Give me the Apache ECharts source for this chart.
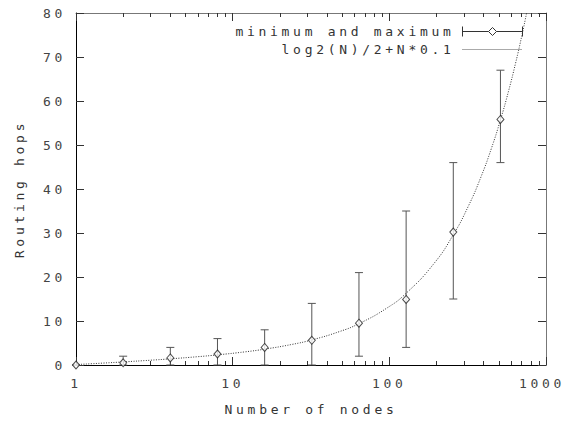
<!DOCTYPE html>
<html><head><meta charset="utf-8">
<script src="https://cdn.jsdelivr.net/npm/echarts@6/dist/echarts.min.js"></script>
<style>
html,body{margin:0;padding:0;background:#fff;}
#c{width:565px;height:426px;}
#c svg text{letter-spacing:3.7px;}
</style></head><body><div id="c"></div>
<script>
const nodes = [1, 2, 4, 8, 16, 32, 64, 128, 256, 512];
const meanHops = [0, 0.5, 1.6, 2.5, 4.0, 5.6, 9.5, 14.9, 30.2, 55.8];
const minHops = [0, 0, 0, 0, 0, 0, 2, 4, 15, 46];
const maxHops = [0, 2, 4, 6, 8, 14, 21, 35, 46, 67];
const curveN = [1, 1.5, 2, 3, 4, 6, 8, 12, 16, 24, 32, 48, 64, 96, 128, 192, 256, 320, 384, 448, 512, 576, 640, 704, 752, 760];
const curveHops = [0.1, 0.44, 0.7, 1.09, 1.4, 1.89, 2.3, 2.99, 3.6, 4.69, 5.7, 7.59, 9.4, 12.89, 16.3, 22.99, 29.6, 36.16, 42.69, 49.2, 55.7, 62.18, 68.66, 75.13, 79.98, 80.79];
const xMinorTicks = [2,3,4,5,6,7,8,9,20,30,40,50,60,70,80,90,200,300,400,500,600,700,800,900];
const seriesNames = ['minimum and maximum', 'log2(N)/2+N*0.1'];
const xTitle = 'Number of nodes';
const yTitle = 'Routing hops';

const FONT = 'DejaVu Sans Mono';
const FS = 13;
const chart = echarts.init(document.getElementById('c'), null, {renderer: 'svg'});
const errData = nodes.map((n, i) => [n, minHops[i], maxHops[i]]);
const meanData = nodes.map((n, i) => [n, meanHops[i]]);
const curveData = curveN.map((n, i) => [n, curveHops[i]]);

function xAxisCfg(pos, minor, showLabel, lineColor) {
  return {
    type: 'log', logBase: 10, min: 1, max: 1000, position: pos,
    name: showLabel ? xTitle : '', nameLocation: 'middle', nameGap: 38,
    nameTextStyle: {fontFamily: FONT, fontSize: FS, color: '#333'},
    axisLine: {show: !minor, lineStyle: {color: lineColor, width: 1}},
    axisTick: minor ? {show: true, inside: true, length: 4, lineStyle: {color: '#333'}, customValues: xMinorTicks}
                    : {show: true, inside: true, length: 8, lineStyle: {color: '#333'}},
    axisLabel: {show: showLabel, margin: 12, fontFamily: FONT, fontSize: FS, color: '#444',
                formatter: v => (v >= 1000 ? '{e|' + String(v) + '}' : String(v)),
                rich: {e: {align: 'center', padding: [0, 8, 0, 0], fontFamily: FONT, fontSize: FS, color: '#444'}}},
    splitLine: {show: false}, minorTick: {show: false}
  };
}

chart.setOption({
  animation: false,
  backgroundColor: '#fff',
  grid: {left: 76, right: 19, top: 13, bottom: 61},
  legend: {
    right: 37, top: 20, orient: 'vertical', align: 'right', itemGap: 5, padding: 5,
    itemWidth: 60, itemHeight: 10, selectedMode: false,
    textStyle: {fontFamily: FONT, fontSize: FS, color: '#333', padding: [0, 3, 0, 0]},
    data: [
      {name: seriesNames[0], icon: 'path://M0,0L0,10M0,5L26,5M34,5L60,5M60,0L60,10M26,5L30,1L34,5L30,9Z',
       itemStyle: {color: 'rgba(0,0,0,0)', borderColor: '#333', borderWidth: 1}},
      {name: seriesNames[1], icon: 'path://M0,0M0,5L60,5M60,10',
       itemStyle: {color: 'rgba(0,0,0,0)', borderColor: '#555', borderWidth: 1, borderType: [1, 1]}}
    ]
  },
  xAxis: [
    xAxisCfg('bottom', false, true, '#000'),
    xAxisCfg('bottom', true, false, '#000'),
    xAxisCfg('top', false, false, '#777'),
    xAxisCfg('top', true, false, '#777')
  ],
  yAxis: [
    {type: 'value', min: 0, max: 80, interval: 10, position: 'left',
     name: yTitle, nameLocation: 'middle', nameGap: 50,
     nameTextStyle: {fontFamily: FONT, fontSize: FS, color: '#333'},
     axisLine: {show: true, lineStyle: {color: '#000', width: 1}},
     axisTick: {show: true, inside: true, length: 8, lineStyle: {color: '#333'}},
     axisLabel: {margin: 10, fontFamily: FONT, fontSize: FS, color: '#444'},
     splitLine: {show: false}},
    {type: 'value', min: 0, max: 80, interval: 10, position: 'right',
     axisLine: {show: true, lineStyle: {color: '#777', width: 1}},
     axisTick: {show: true, inside: true, length: 8, lineStyle: {color: '#333'}},
     axisLabel: {show: false}, splitLine: {show: false}}
  ],
  series: [
    {name: seriesNames[1], type: 'line', data: curveData, symbol: 'none', smooth: true, clip: true,
     lineStyle: {color: '#333', width: 1, type: [1, 1.5]}, itemStyle: {color: '#333'}, z: 2},
    {name: seriesNames[0], type: 'custom', data: errData, clip: false, z: 3,
     itemStyle: {color: '#333'},
     renderItem: function (params, api) {
       const x = api.value(0), lo = api.value(1), hi = api.value(2);
       const p1 = api.coord([x, lo]), p2 = api.coord([x, hi]);
       const w = 4;
       const st = {stroke: '#555', lineWidth: 1, fill: null};
       return {type: 'group', children: [
         {type: 'line', shape: {x1: p1[0], y1: p1[1], x2: p2[0], y2: p2[1]}, style: st},
         {type: 'line', shape: {x1: p1[0] - w, y1: p1[1], x2: p1[0] + w, y2: p1[1]}, style: st},
         {type: 'line', shape: {x1: p2[0] - w, y1: p2[1], x2: p2[0] + w, y2: p2[1]}, style: st}
       ]};
     }},
    {name: seriesNames[0], type: 'scatter', data: meanData, symbol: 'diamond', symbolSize: [7, 8],
     clip: false, z: 4, itemStyle: {color: '#fff', borderColor: '#222', borderWidth: 1}}
  ]
});
</script></body></html>
